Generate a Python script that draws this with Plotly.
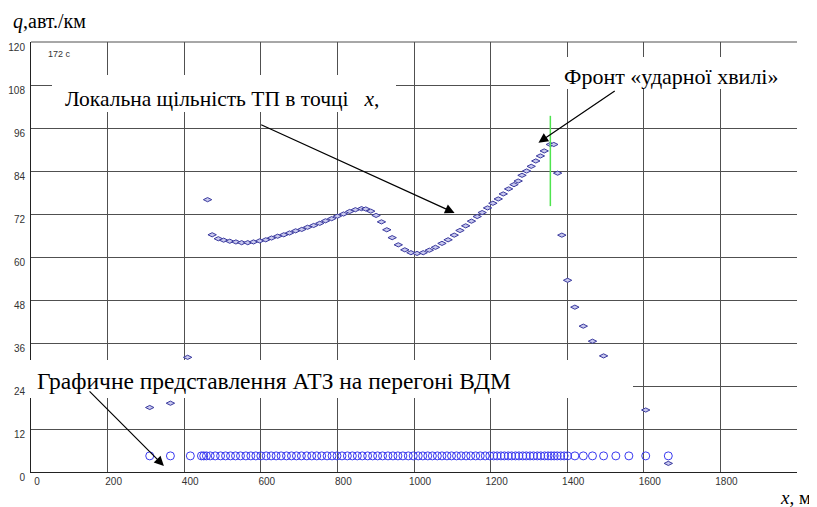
import plotly.graph_objects as go

# ---- data ----
density_x = [310, 364, 409, 461, 473, 489, 503, 519, 535, 550, 566, 581, 597, 613, 628, 644,
             660, 675, 691, 707, 722, 738, 754, 769, 785, 800, 816, 832, 847, 863, 874, 887,
             901, 915, 929, 943, 959, 976, 992, 1008, 1024, 1040, 1056, 1073, 1089, 1105,
             1120, 1135, 1150, 1165, 1178, 1192, 1206, 1220, 1233, 1247, 1261, 1272, 1282,
             1294, 1306, 1318, 1330, 1340, 1356, 1365, 1375, 1386, 1401, 1420, 1442, 1466,
             1495, 1605, 1664]
density_q = [18.0, 19.2, 32.0, 76.0, 66.2, 65.1, 64.7, 64.4, 64.2, 64.0, 64.0, 64.2, 64.5, 64.8,
             65.3, 65.8, 66.2, 66.7, 67.3, 67.7, 68.3, 68.8, 69.4, 70.1, 70.7, 71.4, 72.0,
             72.7, 73.2, 73.5, 73.4, 72.8, 71.6, 69.8, 67.6, 65.4, 63.4, 62.0, 61.2, 61.0,
             61.2, 61.9, 62.7, 63.8, 64.8, 66.1, 67.4, 68.7, 70.0, 71.3, 72.4, 73.7, 75.0,
             76.2, 77.6, 79.0, 80.2, 81.2, 82.8, 84.0, 85.3, 86.8, 88.2, 89.6, 91.4, 91.4,
             83.4, 66.1, 53.5, 46.0, 40.7, 36.5, 32.4, 17.3, 2.4]

vehicle_x = [310, 364, 416, 445, 451, 458, 468, 481, 495, 508, 521, 534, 547, 561, 574, 587,
             600, 614, 627, 640, 653, 667, 680, 693, 706, 720, 733, 746, 759, 773, 786, 799,
             812, 826, 839, 852, 865, 879, 892, 905, 918, 932, 945, 958, 971, 985, 998, 1011,
             1023, 1036, 1048, 1061, 1073, 1086, 1098, 1111, 1123, 1136, 1148, 1161, 1173,
             1186, 1198, 1208, 1217, 1227, 1236, 1246, 1255, 1265, 1274, 1284, 1293, 1303,
             1312, 1322, 1331, 1341, 1350, 1358, 1366, 1374, 1383, 1392, 1401, 1420, 1442,
             1466, 1495, 1527, 1561, 1605, 1664]
vehicle_level = 4.5

front_x = [1356, 1356]
front_q = [74.2, 99.4]

x_ticks = [0, 200, 400, 600, 800, 1000, 1200, 1400, 1600, 1800]
y_ticks = [0, 12, 24, 36, 48, 60, 72, 84, 96, 108, 120]

# ---- layout (page body adds an 8px offset) ----
OFF = 8
W, H = 817 - OFF, 507 - OFF
L, R, T, B = 31, 797, 42, 472          # plot area in screen pixels
def px(p):
    return (p - L) / (R - L)
def py(p):
    return (B - p) / (B - T)

fig = go.Figure()

fig.add_trace(go.Scatter(
    x=vehicle_x, y=[vehicle_level] * len(vehicle_x), mode="markers",
    marker=dict(symbol="circle-open", size=8, color="#3a3af0", line=dict(width=1)),
    showlegend=False, hoverinfo="skip"))

fig.add_trace(go.Scatter(
    x=density_x, y=density_q, mode="markers",
    marker=dict(symbol="diamond-wide", size=6, color="#c8c8ee",
                line=dict(color="#3a3a9e", width=1)),
    showlegend=False, hoverinfo="skip"))

fig.add_trace(go.Scatter(
    x=front_x, y=front_q, mode="lines",
    line=dict(color="#4ee44e", width=1.5),
    showlegend=False, hoverinfo="skip"))

serif = "Liberation Serif"
tickfont = dict(family="Liberation Sans", size=10, color="#333333")

fig.update_layout(
    width=W, height=H,
    margin=dict(l=L - OFF, r=W - (R - OFF), t=T - OFF, b=H - (B - OFF), autoexpand=False),
    plot_bgcolor="white", paper_bgcolor="white",
    xaxis=dict(range=[0, 2000], tickvals=x_ticks, ticktext=[str(v) for v in x_ticks],
               showgrid=True, gridcolor="#505050", gridwidth=1, zeroline=False,
               showline=True, linecolor="#222222", linewidth=1, ticks="",
               tickfont=tickfont, ticklabelshift=6, ticklabelstandoff=0, automargin=False),
    yaxis=dict(range=[0, 120], tickvals=y_ticks, ticktext=[str(v) for v in y_ticks],
               showgrid=True, gridcolor="#505050", gridwidth=1, zeroline=False,
               showline=True, linecolor="#222222", linewidth=1, ticks="",
               tickfont=tickfont, ticklabelshift=5, ticklabelstandoff=3, automargin=False),
)

# top border line (gridline at 120)
fig.add_shape(type="line", xref="paper", yref="paper", x0=0, x1=1, y0=1, y1=1,
              line=dict(color="#505050", width=1), layer="below")

# white boxes behind the text labels
boxes = [(52, 75, 396, 112), (550, 57, 805, 89), (28, 360, 633, 398)]
for x0, y0, x1, y1 in boxes:
    fig.add_shape(type="rect", xref="paper", yref="paper",
                  x0=px(x0), x1=px(x1), y0=py(y1), y1=py(y0),
                  fillcolor="white", line=dict(width=0), layer="above")

texts = [
    ("Локальна щільність ТП в точці&nbsp;&nbsp;&nbsp;<i>x</i>,", 63, 99, 21.5),
    ("Фронт «ударної хвилі»", 562, 76, 22),
    ("Графичне представлення АТЗ на перегоні ВДМ", 35, 381, 23.5),
    ("<i>q</i>,авт./км", 11, 22, 20),
    ("<i>x</i>, м", 778, 497, 19),
]
for t, x, y, s in texts:
    fig.add_annotation(text=t, xref="paper", yref="paper", x=px(x), y=py(y),
                       xanchor="left", yanchor="middle", showarrow=False,
                       font=dict(family=serif, size=s, color="black"))

fig.add_annotation(text="172 c", xref="paper", yref="paper", x=px(46), y=py(54),
                   xanchor="left", yanchor="middle", showarrow=False,
                   font=dict(family="Liberation Sans", size=9, color="#333333"))

# arrows (tip, tail) in data coordinates
arrows = [((1106, 72.3), (597, 97.1)),
          ((1325, 91.9), (1528, 106.6)),
          ((347, 1.7), (149, 22.9))]
for (hx, hy), (tx, ty) in arrows:
    fig.add_annotation(x=hx, y=hy, ax=tx, ay=ty, xref="x", yref="y", axref="x", ayref="y",
                       text="", showarrow=True, arrowhead=2, arrowsize=1.6,
                       arrowwidth=1.2, arrowcolor="black", standoff=0)

fig.write_html("out.html")
